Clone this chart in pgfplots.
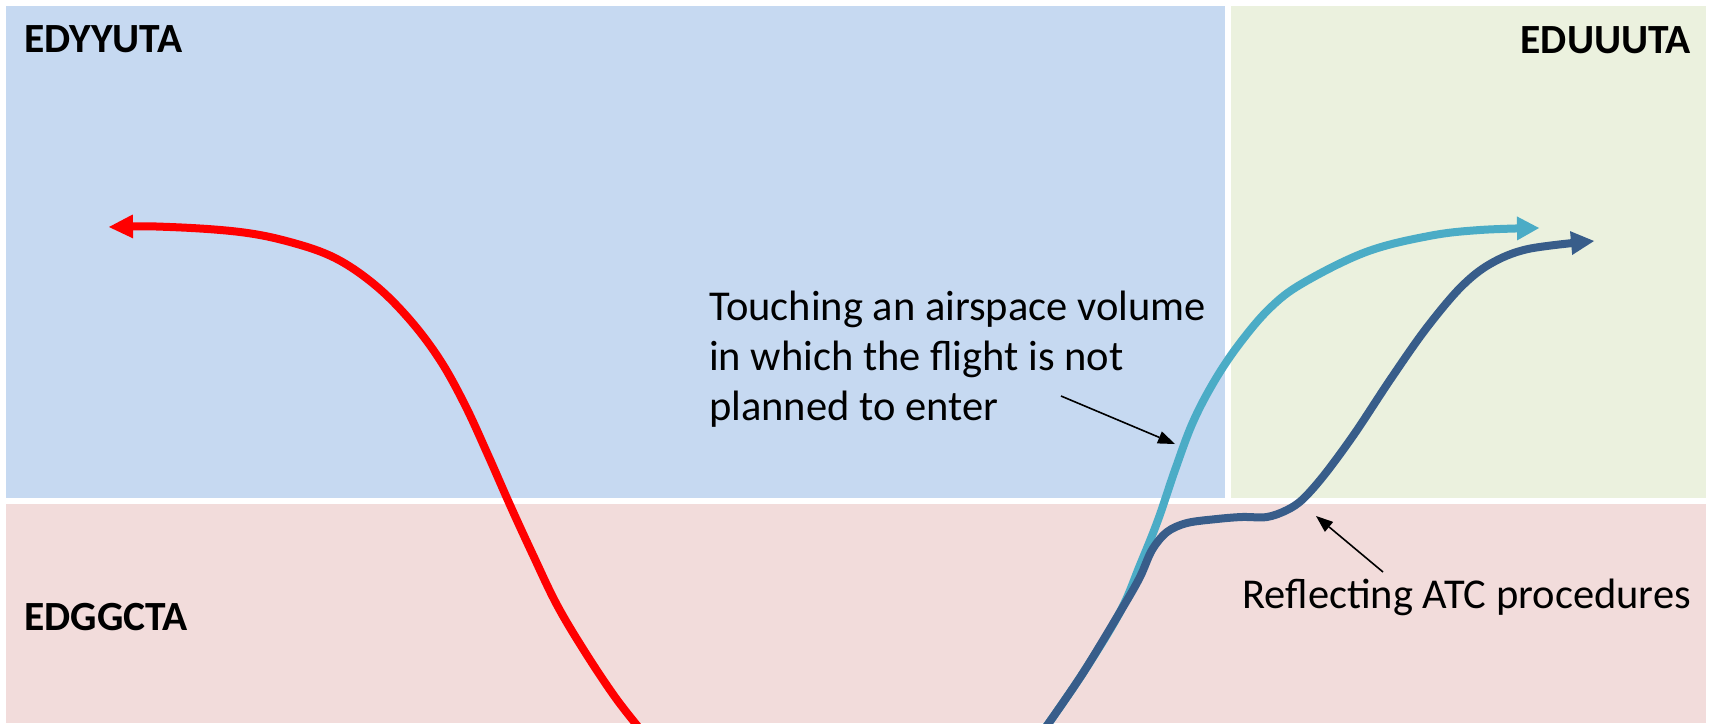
\documentclass[border=0pt]{standalone}
\usepackage{pgfplots}
\pgfplotsset{compat=1.18}
\usepackage{fontspec}
\setmainfont{Carlito}
\usetikzlibrary{arrows.meta}
\definecolor{bluebg}{RGB}{198,217,241}
\definecolor{greenbg}{RGB}{235,241,222}
\definecolor{pinkbg}{RGB}{242,220,219}
\definecolor{lightblue}{RGB}{75,172,198}
\definecolor{darkblue}{RGB}{56,93,138}
\begin{document}
\begin{tikzpicture}
\begin{axis}[
  width=1711pt, height=723pt, scale only axis,
  xmin=0, xmax=1711, ymin=0, ymax=723, y dir=reverse,
  hide axis, clip=true]
\fill[white] (axis cs:0,0) rectangle (axis cs:1711,723);
\fill[bluebg] (axis cs:6,6) rectangle (axis cs:1225,498);
\fill[greenbg] (axis cs:1231,6) rectangle (axis cs:1706,498);
\fill[pinkbg] (axis cs:6,504) rectangle (axis cs:1706,723);

\node[anchor=base west, inner sep=0pt, font=\fontsize{41.5}{48}\selectfont\bfseries] at (axis cs:24,52) {EDYYUTA};
\node[anchor=base east, inner sep=0pt, font=\fontsize{41.5}{48}\selectfont\bfseries] at (axis cs:1691,53) {EDUUUTA};
\node[anchor=base west, inner sep=0pt, font=\fontsize{41.5}{48}\selectfont\bfseries] at (axis cs:24,630) {EDGGCTA};

\node[anchor=base west, inner sep=0pt, font=\fontsize{42.5}{50}\selectfont] at (axis cs:709,320) {Touching an airspace volume};
\node[anchor=base west, inner sep=0pt, font=\fontsize{42.5}{50}\selectfont] at (axis cs:709,370) {in which the flight is not};
\node[anchor=base west, inner sep=0pt, font=\fontsize{42.5}{50}\selectfont] at (axis cs:709,420) {planned to enter};
\node[anchor=base east, inner sep=0pt, font=\fontsize{42.5}{50}\selectfont] at (axis cs:1691,608) {Reflecting ATC procedures};

% red flight
\addplot[color=red, line width=8pt, smooth, tension=0.6, {Triangle[length=24pt,width=24pt,line width=0pt]}-] coordinates {
 (109,227) (170,227) (240,232) (290,242) (335,258) (375,285) (410,320) (440,360) (465,405) (488,455) (510,505) (533,555) (557,605) (585,652) (615,697) (640,729)};

% light blue flight
\addplot[color=lightblue, line width=8pt, smooth, tension=0.6, -{Triangle[length=22pt,width=24pt,line width=0pt]}] coordinates {
 (1046,727) (1083,673) (1120,612) (1140,565) (1158,520) (1175,470) (1193,422) (1215,380) (1240,343) (1270,308) (1303,283) (1366,252) (1429,236) (1480,230) (1539,228)};

% dark blue flight
\addplot[color=darkblue, line width=8pt, smooth, tension=0.55, -{Triangle[length=23pt,width=24pt,line width=0pt]}] coordinates {
 (1046,727) (1083,673) (1123,607) (1140,577) (1152,550) (1167,532) (1187,523) (1217,519) (1242,517) (1267,517) (1287,510) (1303,499) (1325,474) (1355,433) (1390,380) (1425,330) (1460,288) (1490,264) (1528,249) (1594,241)};

% annotation arrows
\addplot[black, line width=1.6pt, -{Triangle[length=17pt,width=13pt,line width=0pt]}] coordinates {(1061,396) (1175,444)};
\addplot[black, line width=1.6pt, -{Triangle[length=17pt,width=13pt,line width=0pt]}] coordinates {(1383,572) (1316,516)};
\end{axis}
\end{tikzpicture}
\end{document}
